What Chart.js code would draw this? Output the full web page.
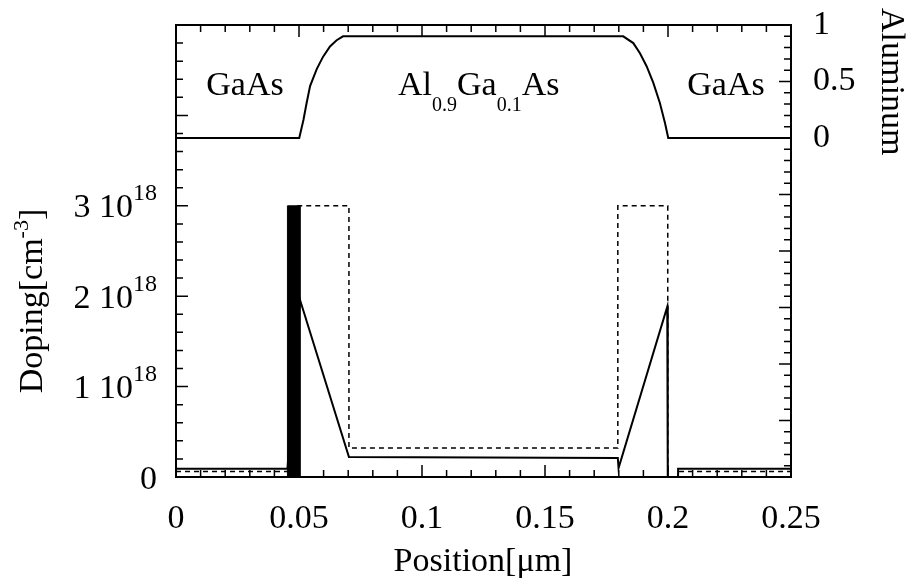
<!DOCTYPE html>
<html>
<head>
<meta charset="utf-8">
<script src="https://cdn.jsdelivr.net/npm/chart.js@4/dist/chart.umd.min.js"></script>
<style>
  html, body { margin: 0; padding: 0; background: #fff; }
</style>
</head>
<body>
<canvas id="profile" width="911" height="583"></canvas>
<script>
// position in um, doping in 1e18 cm^-3, aluminum fraction 0..1
const alX = [0, 0.0501, 0.0518, 0.0531, 0.0545, 0.0572, 0.0598, 0.0626, 0.0653, 0.0679,
             0.1818, 0.1859, 0.1886, 0.1913, 0.1940, 0.1967, 0.1988, 0.2001, 0.25];
const alY = [0, 0, 0.16, 0.31, 0.46, 0.61, 0.72, 0.81, 0.865, 0.9,
             0.9, 0.84, 0.75, 0.635, 0.49, 0.31, 0.13, 0, 0];

// simulated doping (solid)
const dopX = [0, 0.0453, 0.0504, 0.0703, 0.1796, 0.1799, 0.1997, 0.1999, 0.2041, 0.2041, 0.25];
const dopY = [0.09, 0.09, 1.96, 0.22, 0.21, 0.10, 1.885, 0, 0, 0.09, 0.09];

// delta doped spike (filled black block)
const spikeX = [0.0453, 0.0453, 0.0504, 0.0504];
const spikeY = [0, 3, 3, 0];

// nominal doping (dashed)
const nomX = [0, 0.0478, 0.0478, 0.0703, 0.0703, 0.1796, 0.1796, 0.1999, 0.1999, 0.2041, 0.2041, 0.25];
const nomY = [0.06, 0.06, 3, 3, 0.32, 0.32, 3, 3, 0, 0, 0.06, 0.06];

const xTicks = [0, 0.05, 0.1, 0.15, 0.2, 0.25];
const dopTicks = [0, 1, 2, 3];
const alTicks = [0, 0.5, 1];

const FONT = '"Liberation Serif", "DejaVu Serif", serif';

function pts(xs, ys) {
  return xs.map((x, i) => ({ x: x, y: ys[i] }));
}

const framePlugin = {
  id: 'frame',
  afterDatasetsDraw(chart) {
    const ctx = chart.ctx;
    const a = chart.chartArea;
    const xs = chart.scales.x, ys = chart.scales.y, as = chart.scales.y2;
    ctx.save();
    ctx.strokeStyle = '#000';
    ctx.fillStyle = '#000';
    ctx.lineWidth = 2;
    ctx.strokeRect(a.left, a.top, a.right - a.left, a.bottom - a.top);

    ctx.lineWidth = 1.5;
    ctx.beginPath();
    for (let i = 0; i <= 25; i++) {
      const px = xs.getPixelForValue(i / 100);
      const len = i % 5 === 0 ? 12 : 7;
      ctx.moveTo(px, a.bottom); ctx.lineTo(px, a.bottom - len);
      ctx.moveTo(px, a.top); ctx.lineTo(px, a.top + len);
    }
    for (let i = 0; i <= 25; i++) {
      const py = ys.getPixelForValue(i * 0.2);
      const len = i % 5 === 0 ? 12 : 7;
      ctx.moveTo(a.left, py); ctx.lineTo(a.left + len, py);
    }
    for (let i = -30; i <= 10; i++) {
      const py = as.getPixelForValue(i / 10);
      const len = i % 5 === 0 ? 12 : 7;
      ctx.moveTo(a.right, py); ctx.lineTo(a.right - len, py);
    }
    ctx.stroke();

    // doping tick labels with superscript
    ctx.textAlign = 'right';
    ctx.textBaseline = 'alphabetic';
    dopTicks.forEach(d => {
      const base = ys.getPixelForValue(d) + 11.5;
      if (d === 0) {
        ctx.font = '34px ' + FONT;
        ctx.fillText('0', 157, base);
      } else {
        ctx.font = '24px ' + FONT;
        const w = ctx.measureText('18').width;
        ctx.fillText('18', 157, base - 17);
        ctx.font = '34px ' + FONT;
        ctx.fillText(d + ' 10', 157 - w, base);
      }
    });

    // layer labels
    ctx.textAlign = 'center';
    ctx.font = '34px ' + FONT;
    ctx.fillText('GaAs', 245, 95);
    ctx.fillText('GaAs', 726, 95);
    ctx.textAlign = 'left';
    let x = 398;
    const parts = [['Al', 0], ['0.9', 1], ['Ga', 0], ['0.1', 1], ['As', 0]];
    parts.forEach(p => {
      ctx.font = (p[1] ? '20px ' : '34px ') + FONT;
      ctx.fillText(p[0], x, p[1] ? 111 : 95);
      x += ctx.measureText(p[0]).width;
    });

    // axis titles
    ctx.font = '34px ' + FONT;
    ctx.textAlign = 'center';
    ctx.fillText('Position[\u03bcm]', 483, 571);

    ctx.save();
    ctx.translate(882, 8);
    ctx.rotate(Math.PI / 2);
    ctx.textAlign = 'left';
    ctx.fillText('Aluminum', 0, 0);
    ctx.restore();

    ctx.save();
    ctx.font = '34px ' + FONT;
    const w1 = ctx.measureText('Doping[cm').width;
    const w3 = ctx.measureText(']').width;
    ctx.font = '22px ' + FONT;
    const w2 = ctx.measureText('-3').width;
    const total = w1 + w2 + w3;
    ctx.translate(42, 301 + total / 2);
    ctx.rotate(-Math.PI / 2);
    ctx.textAlign = 'left';
    ctx.font = '34px ' + FONT;
    ctx.fillText('Doping[cm', 0, 0);
    ctx.font = '22px ' + FONT;
    ctx.fillText('-3', w1, -14);
    ctx.font = '34px ' + FONT;
    ctx.fillText(']', w1 + w2, 0);
    ctx.restore();

    ctx.restore();
  }
};

new Chart(document.getElementById('profile'), {
  type: 'scatter',
  data: {
    datasets: [
      {
        data: pts(spikeX, spikeY), yAxisID: 'y', showLine: true, fill: 'origin',
        borderColor: '#000', backgroundColor: '#000', borderWidth: 1, pointRadius: 0
      },
      {
        data: pts(nomX, nomY), yAxisID: 'y', showLine: true, fill: false,
        borderColor: '#000', borderWidth: 1.5, borderDash: [5, 4], pointRadius: 0
      },
      {
        data: pts(dopX, dopY), yAxisID: 'y', showLine: true, fill: false,
        borderColor: '#000', borderWidth: 2, pointRadius: 0
      },
      {
        data: pts(alX, alY), yAxisID: 'y2', showLine: true, fill: false,
        borderColor: '#000', borderWidth: 2, pointRadius: 0
      }
    ]
  },
  options: {
    responsive: false,
    animation: false,
    devicePixelRatio: 1,
    layout: { padding: { top: 25, left: 0, right: 0, bottom: 0 } },
    plugins: { legend: { display: false }, tooltip: { enabled: false } },
    scales: {
      x: {
        type: 'linear', position: 'bottom', min: 0, max: 0.25,
        grid: { display: false, drawTicks: false }, border: { display: false },
        ticks: {
          padding: 22, color: '#000', maxRotation: 0, autoSkip: false,
          font: { family: FONT, size: 34 },
          callback: v => String(Math.round(v * 100) / 100)
        },
        afterBuildTicks: s => { s.ticks = xTicks.map(v => ({ value: v })); },
        afterFit: s => { s.height = 106; s.paddingLeft = 0; s.paddingRight = 0; }
      },
      y: {
        type: 'linear', position: 'left', min: 0, max: 5,
        grid: { display: false, drawTicks: false }, border: { display: false },
        ticks: { display: false },
        afterFit: s => { s.width = 176; s.paddingTop = 0; s.paddingBottom = 0; }
      },
      y2: {
        type: 'linear', position: 'right', min: -3, max: 1,
        grid: { display: false, drawTicks: false }, border: { display: false },
        ticks: {
          padding: 22, color: '#000',
          font: { family: FONT, size: 34 },
          callback: v => String(v)
        },
        afterBuildTicks: s => { s.ticks = alTicks.map(v => ({ value: v })); },
        afterFit: s => { s.width = 120; s.paddingTop = 0; s.paddingBottom = 0; }
      }
    }
  },
  plugins: [framePlugin]
});
</script>
</body>
</html>
